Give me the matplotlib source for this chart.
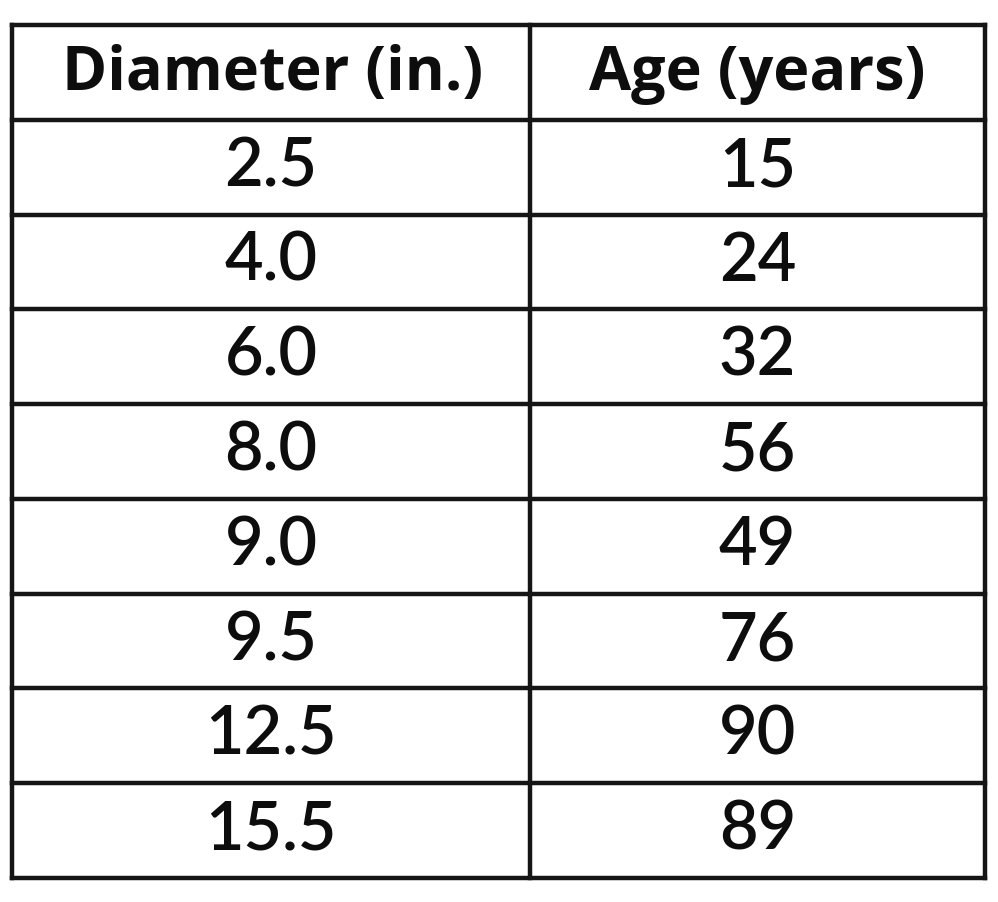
import matplotlib.pyplot as plt

# table data
headers = ['Diameter (in.)', 'Age (years)']
diameter = ['2.5', '4.0', '6.0', '8.0', '9.0', '9.5', '12.5', '15.5']
age = ['15', '24', '32', '56', '49', '76', '90', '89']

W, H = 998, 902
fig = plt.figure(figsize=(W / 100, H / 100), dpi=100)
ax = fig.add_axes([0, 0, 1, 1])
ax.set_xlim(0, W)
ax.set_ylim(H, 0)
ax.axis('off')

# layout in pixels
left, mid, right = 12, 530, 985
top, bottom = 25, 878
n_rows = len(diameter) + 1
row_h = (bottom - top) / n_rows

line_kw = dict(color='#151515', lw=3.2)
for i in range(n_rows + 1):
    y = top + i * row_h
    ax.plot([left, right], [y, y], **line_kw)
for x in (left, mid, right):
    ax.plot([x, x], [top, bottom], **line_kw)

cx1 = (left + mid) / 2
cx2 = (mid + right) / 2
font = dict(color='#0d0d0d', ha='center', va='center')

ax.text(cx1 + 2, top + row_h / 2 + 2, headers[0], family='Open Sans',
        fontsize=44, fontweight='bold', **font)
ax.text(cx2, top + row_h / 2 + 2, headers[1], family='Open Sans',
        fontsize=44, fontweight='bold', **font)

for i, (d, a) in enumerate(zip(diameter, age)):
    y = top + (i + 1.5) * row_h
    ax.text(cx1, y, d, family='Lato', fontsize=48, fontweight='semibold', **font)
    ax.text(cx2, y, a, family='Lato', fontsize=48, fontweight='semibold', **font)

fig.savefig('out.png', dpi=100, facecolor='white')
